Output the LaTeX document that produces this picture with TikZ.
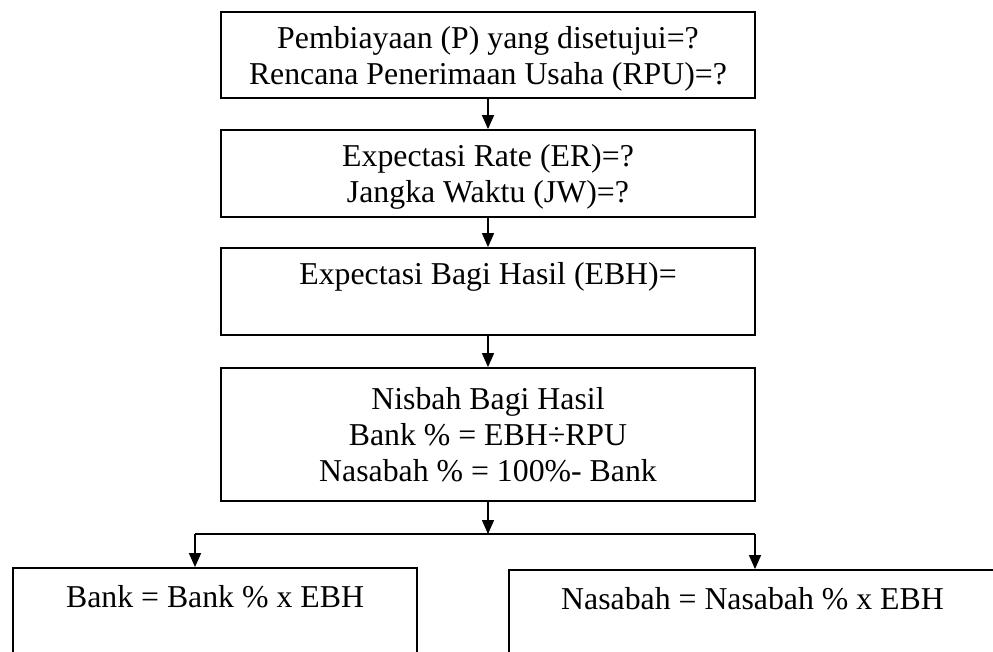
\documentclass[tikz,border=0pt]{standalone}
\usepackage{fontspec}
\setmainfont{Liberation Serif}
\usetikzlibrary{arrows.meta}
\begin{document}
\begin{tikzpicture}[x=1pt,y=-1pt,
    kotak/.style={draw,line width=1.8pt,inner sep=0pt,align=center,text depth=0pt,
      font=\fontsize{31.8}{36}\selectfont},
    panah/.style={line width=1.5pt,-{Triangle[length=14pt,width=12pt]}}]
  \useasboundingbox (0,0) rectangle (993,651);
  % Kotak oben
  \node[kotak,minimum width=534pt,minimum height=86pt] (p1) at (488,55)
    {Pembiayaan (P) yang disetujui=?\\Rencana Penerimaan Usaha (RPU)=?};
  \node[kotak,minimum width=534pt,minimum height=87pt] (p2) at (488,173.5)
    {Expectasi Rate (ER)=?\\Jangka Waktu (JW)=?};
  \node[kotak,minimum width=534pt,minimum height=87pt] (p3) at (488,291.5)
    {Expectasi Bagi Hasil (EBH)=\\\mbox{}};
  \node[kotak,minimum width=534pt,minimum height=133pt] (p4) at (488,434.5)
    {Nisbah Bagi Hasil\\Bank \% = EBH÷RPU\\Nasabah \% = 100\%- Bank};
  % Kotak unten
  \node[kotak,minimum width=404pt,minimum height=92pt] (bank) at (215,614)
    {Bank = Bank \% x EBH\\\mbox{}};
  \node[kotak,minimum width=487pt,minimum height=92pt] (nasabah) at (752.5,616)
    {Nasabah = Nasabah \% x EBH\\\mbox{}};
  % Verzweigung
  \coordinate (cabang) at (488,534);
  \coordinate (kiri) at (195,534);
  \coordinate (kanan) at (755,534);
  % Pfeile
  \draw[panah] (p1) -- (p2);
  \draw[panah] (p2) -- (p3);
  \draw[panah] (p3) -- (p4);
  \draw[panah] (p4) -- (cabang);
  \draw[line width=1.5pt] (kiri) -- (kanan);
  \draw[panah] (kiri) -- (kiri |- bank.north);
  \draw[panah] (kanan) -- (kanan |- nasabah.north);
\end{tikzpicture}
\end{document}
